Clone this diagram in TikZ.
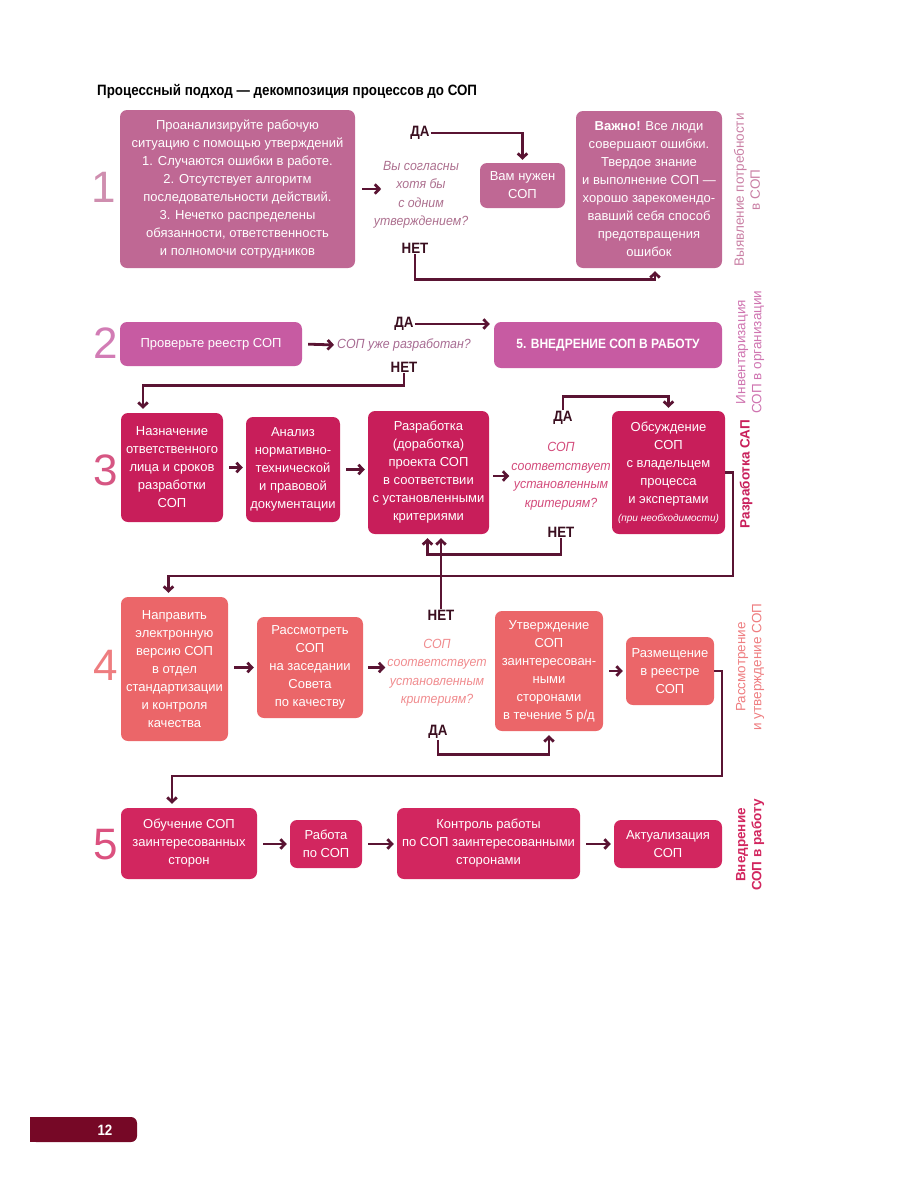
\documentclass[tikz,border=0pt]{standalone}
\usepackage{fontspec}
\setmainfont{Liberation Sans}
\newfontfamily\condsans{Liberation Sans}[FakeStretch=0.89]
\newfontfamily\qsans{Liberation Sans}[FakeStretch=0.93]
\usetikzlibrary{positioning,arrows.meta}
\definecolor{rowa}{HTML}{BF6894}
\definecolor{rowb}{HTML}{C75BA2}
\definecolor{rowc}{HTML}{C81E5A}
\definecolor{rowd}{HTML}{EB6669}
\definecolor{rowe}{HTML}{D2265F}
\definecolor{linecol}{HTML}{5A1433}
\definecolor{yncol}{HTML}{3A0E1F}
\definecolor{pgcol}{HTML}{760826}
\newcommand\bxfont{\fontsize{13}{18}\selectfont}
\newcommand\qfont{\qsans\fontsize{13.3}{18.5}\selectfont\itshape}
\newcommand\numfont{\fontsize{44}{44}\selectfont}
\newcommand\ynfont{\condsans\fontsize{15}{16}\selectfont\bfseries}

\begin{document}
\begin{tikzpicture}[x=1pt,y=-1pt,
    box/.style={rounded corners=7, text=white, align=center, inner sep=0pt, font=\bxfont},
    quest/.style={align=center, inner sep=1pt, font=\qfont},
    yn/.style={inner sep=1pt, text=yncol, font=\ynfont},
    rownum/.style={inner sep=0pt, font=\numfont},
    side/.style={rotate=90, align=center, inner sep=0pt, font=\fontsize{13.5}{16}\selectfont},
    link/.style={draw=linecol, line width=2.8},
    arr/.style={link, -{Straight Barb[length=4.5pt,width=9.5pt]}},
    hop/.style={arr, shorten <=6, shorten >=3}]
  \useasboundingbox (0,0) rectangle (900,1200);
  % title
  \node[anchor=base west, inner sep=0pt, font=\condsans\fontsize{15}{17}\selectfont\bfseries] (title) at (97,95)
    {Процессный подход — декомпозиция процессов до СОП};

  % 1: need for SOP
  \node[rownum, text=rowa!75] (n1) at (104,187) {1};
  \node[box, fill=rowa, minimum width=235, minimum height=158] (need) at (237.5,189)
    {Проанализируйте рабочую\\ситуацию с помощью утверждений\\1. Случаются ошибки в работе.\\2. Отсутствует алгоритм\\последовательности действий.\\3. Нечетко распределены\\обязанности, ответственность\\и полномочи сотрудников};
  \node[quest, text=rowa!70!gray] (q1) at (421,195) {Вы согласны\\хотя бы\\с одним\\утверждением?};
  \node[yn] (yes1) at (420,133) {ДА};
  \node[yn] (no1) at (415,248) {НЕТ};
  \node[box, fill=rowa, minimum width=85, minimum height=45] (sop1) at (522.5,185.5) {Вам нужен\\СОП};
  \node[box, fill=rowa, minimum width=146, minimum height=157] (imp) at (649,189.5)
    {\textbf{Важно!} Все люди\\совершают ошибки.\\Твердое знание\\и выполнение СОП —\\хорошо зарекомендо-\\вавший себя способ\\предотвращения\\ошибок};
  \node[side, text=rowa!85] (side1) at (747,190) {Выявление потребности\\в СОП};
  \draw[arr, shorten <=7] (need.east) -- ++(26,0);
  \draw[arr, shorten >=3] (yes1.east) -| (sop1.north);
  \draw[arr, shorten >=3] (no1.south) -- ++(0,25) -| ([xshift=6]imp.south);

  % 2: inventory
  \node[rownum, text=rowb!80] (n2) at (106,343) {2};
  \node[box, fill=rowb, minimum width=182, minimum height=44] (reg) at (211,344) {Проверьте реестр СОП};
  \node[quest, text=rowb!55!gray] (q2) at (404,345) {СОП уже разработан?};
  \node[yn] (yes2) at (404,324) {ДА};
  \node[yn] (no2) at (404,367) {НЕТ};
  \node[box, fill=rowb, minimum width=228, minimum height=46, font=\condsans\fontsize{13.5}{16}\selectfont\bfseries] (impl) at (608,345)
    {5. ВНЕДРЕНИЕ СОП В РАБОТУ};
  \node[side, text=rowb!85] (side2) at (750,352) {Инвентаризация\\СОП в организации};
  \draw[arr, shorten <=6, shorten >=2] (reg.east) -- (q2.west);
  \draw[arr, shorten >=4] (yes2.east) -- (yes2.east -| impl.west);

  % 3: development
  \node[rownum, text=rowc!75] (n3) at (106,470) {3};
  \node[box, fill=rowc, minimum width=102, minimum height=109] (assign) at (172,467.5)
    {Назначение\\ответственного\\лица и сроков\\разработки\\СОП};
  \node[box, fill=rowc, minimum width=94, minimum height=105] (anal) at (293,469.5)
    {Анализ\\нормативно-\\технической\\и правовой\\документации};
  \node[box, fill=rowc, minimum width=121, minimum height=123] (dev) at (428.5,472.5)
    {Разработка\\(доработка)\\проекта СОП\\в соответствии\\с установленными\\критериями};
  \node[quest, text=rowc!80] (q3) at (561,476) {СОП\\соответствует\\установленным\\критериям?};
  \node[yn] (yes3) at (563,418) {ДА};
  \node[yn] (no3) at (561,532) {НЕТ};
  \node[box, fill=rowc, minimum width=113, minimum height=123] (disc) at (668.5,472.5)
    {Обсуждение\\СОП\\с владельцем\\процесса\\и экспертами\\{\fontsize{10}{12}\selectfont\itshape (при необходимости)}};
  \node[side, text=rowc, font=\fontsize{13.5}{16}\selectfont\bfseries] (side3) at (746,474) {Разработка САП};
  \draw[arr, shorten >=4] (no2.south) -- ++(0,12) -| ([xshift=-29]assign.north);
  \draw[hop] (assign.east) -- (anal.west |- assign.east);
  \draw[hop] (anal.east) -- (dev.west |- anal.east);
  \draw[arr, shorten <=4, shorten >=1] (dev.east |- q3.west) -- (q3.west);
  \draw[arr, shorten >=3] (yes3.north) -- ++(0,-14) -| (disc.north);
  \draw[arr, shorten >=4] (no3.south) -- ++(0,16) -| ([xshift=-1]dev.south);

  % 4: review and approval
  \node[rownum, text=rowd!85] (n4) at (106,665) {4};
  \node[box, fill=rowd, minimum width=107, minimum height=144] (send) at (174.5,669)
    {Направить\\электронную\\версию СОП\\в отдел\\стандартизации\\и контроля\\качества};
  \node[box, fill=rowd, minimum width=106, minimum height=101] (review) at (310,667.5)
    {Рассмотреть\\СОП\\на заседании\\Совета\\по качеству};
  \node[quest, text=rowd!75] (q4) at (437,672.5) {СОП\\соответствует\\установленным\\критериям?};
  \node[yn] (no4) at (441,615) {НЕТ};
  \node[yn] (yes4) at (438,732) {ДА};
  \node[box, fill=rowd, minimum width=108, minimum height=120] (appr) at (549,671)
    {Утверждение\\СОП\\заинтересован-\\ными\\сторонами\\в течение 5 р/д};
  \node[box, fill=rowd, minimum width=88, minimum height=68] (place) at (670,671)
    {Размещение\\в реестре\\СОП};
  \node[side, text=rowd!85] (side4) at (750,667) {Рассмотрение\\и утверждение СОП};
  \coordinate (r3b) at (733,576);
  \draw[arr, shorten >=4] (disc.east) -| (r3b) -| ([xshift=-6]send.north);
  \draw[hop] (send.east |- review.east) -- (review.west);
  \draw[arr, shorten <=5, shorten >=1] (review.east) -- (q4.west |- review.east);
  \draw[arr, shorten >=4] (no4.north) -- (no4.north |- dev.south);
  \draw[arr, shorten >=4] (yes4.south) -- ++(0,15) -| (appr.south);
  \draw[hop] (appr.east |- place.west) -- (place.west);

  % 5: rollout
  \node[rownum, text=rowe!80] (n5) at (106,845) {5};
  \node[box, fill=rowe, minimum width=136, minimum height=71] (train) at (189,843.5)
    {Обучение СОП\\заинтересованных\\сторон};
  \node[box, fill=rowe, minimum width=72, minimum height=48] (work) at (326,844) {Работа\\по СОП};
  \node[box, fill=rowe, minimum width=183, minimum height=71] (ctrl) at (488.5,843.5)
    {Контроль работы\\по СОП заинтересованными\\сторонами};
  \node[box, fill=rowe, minimum width=108, minimum height=48] (upd) at (668,844) {Актуализация\\СОП};
  \node[side, text=rowe, font=\fontsize{13.5}{16}\selectfont\bfseries] (side5) at (750,845) {Внедрение\\СОП в работу};
  \coordinate (r4b) at (722,776);
  \draw[arr, shorten >=4] (place.east) -| (r4b) -| ([xshift=-17]train.north);
  \draw[hop] (train.east |- work.west) -- (work.west);
  \draw[hop] (work.east) -- (ctrl.west |- work.east);
  \draw[hop] (ctrl.east |- upd.west) -- (upd.west);

  % page number
  \fill[pgcol, rounded corners=6] (30,1117) rectangle (137,1142);
  \fill[pgcol] (30,1117) rectangle (60,1142);
  \node[text=white, inner sep=0pt, font=\condsans\fontsize{15}{16}\selectfont\bfseries] (pg) at (105,1130) {12};
\end{tikzpicture}
\end{document}
